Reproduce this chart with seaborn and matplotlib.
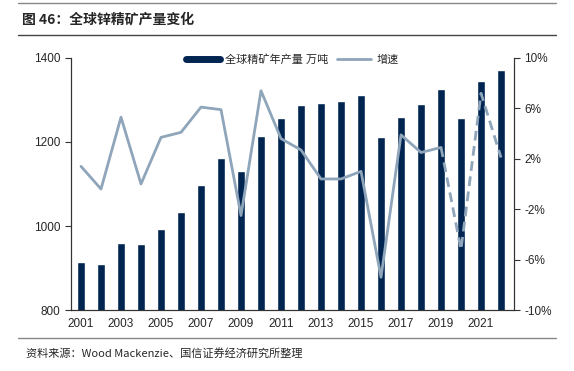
import seaborn as sns
import pandas as pd
import numpy as np
from matplotlib import pyplot as plt
from matplotlib import lines as mlines
from matplotlib.ticker import FixedLocator

years = [str(y) for y in range(2001, 2023)]
output = [914, 910, 960, 957, 993, 1033, 1097, 1162, 1130, 1214, 1257, 1288,
          1293, 1298, 1312, 1212, 1259, 1290, 1326, 1257, 1345, 1371]
growth = [1.4, -0.4, 5.3, 0.0, 3.7, 4.1, 6.1, 5.9, -2.5, 7.4, 3.6, 2.7,
          0.4, 0.4, 1.0, -7.4, 3.9, 2.5, 2.9, -5.2, 7.2, 2.1]
year_labels = ['2001', '2003', '2005', '2007', '2009', '2011', '2013', '2015',
               '2017', '2019', '2021']
left_ticks = [800, 1000, 1200, 1400]
right_ticks = [-10, -6, -2, 2, 6, 10]

bar_color = '#002551'
line_color = '#8FA5BA'

sns.set_style('white')
plt.rcParams['font.family'] = ['Liberation Sans', 'Noto Sans CJK SC', 'DejaVu Sans']

df = pd.DataFrame({'year': years, 'output': output})

fig = plt.figure(figsize=(5.74, 3.71), dpi=100)
ax = fig.add_axes([0.1237, 0.1644, 0.7718, 0.6793])
sns.barplot(x='year', y='output', data=df, color=bar_color, width=0.42,
            saturation=1, ax=ax)
ax.set_ylim(800, 1400)
ax.set_xlim(-0.5, 21.65)
ax.set_xlabel('')
ax.set_ylabel('')
ax.set_yticks(left_ticks)
ax.set_xticks([years.index(y) for y in year_labels])
ax.set_xticklabels(year_labels)
ax.xaxis.set_minor_locator(FixedLocator(np.arange(-0.5, 22, 2)))
ax.tick_params(axis='x', which='major', length=0, labelsize=8.5, pad=6)
ax.tick_params(axis='x', which='minor', length=3, direction='in', color='#333333', width=0.8)
ax.tick_params(axis='y', length=4, direction='out', labelsize=8.5, color='#333333', width=0.8, left=True)
for s in ['left', 'bottom', 'right']:
    ax.spines[s].set_color('#333333')
    ax.spines[s].set_linewidth(0.8)
ax.spines['top'].set_visible(False)

ax2 = ax.twinx()
x = np.arange(len(years))
ax2.plot(x[:19], growth[:19], color=line_color, lw=2)
ax2.plot(x[18:], growth[18:], color=line_color, lw=2, ls=(0, (3.5, 2)))
ax2.set_ylim(-10, 10)
ax2.set_yticks(right_ticks)
ax2.set_yticklabels([f'{t}%' for t in right_ticks])
ax2.tick_params(axis='y', length=4, direction='out', labelsize=8.5, color='#333333', width=0.8, right=True)
for s in ['left', 'bottom', 'right']:
    ax2.spines[s].set_color('#333333')
    ax2.spines[s].set_linewidth(0.8)
ax2.spines['top'].set_visible(False)

bar_handle = mlines.Line2D([], [], color=bar_color, lw=5)
line_handle = mlines.Line2D([], [], color=line_color, lw=2)
ax2.legend([bar_handle, line_handle], ['全球精矿年产量 万吨', '增速'],
           loc='upper center', bbox_to_anchor=(0.5, 1.055), ncol=2, frameon=False,
           fontsize=8, handlelength=3, columnspacing=0.8, handletextpad=0.5)

fig.text(0.038, 0.947, '图 46：全球锌精矿产量变化', fontsize=10, fontweight='bold',
         va='center', ha='left', family=['Noto Sans CJK SC', 'DejaVu Sans'])
fig.add_artist(mlines.Line2D([0.032, 0.968], [0.992, 0.992], color='#888888', lw=1))
fig.add_artist(mlines.Line2D([0.032, 0.968], [0.905, 0.905], color='#444444', lw=1))
fig.add_artist(mlines.Line2D([0.032, 0.968], [0.089, 0.089], color='#888888', lw=1))
fig.text(0.045, 0.048, '资料来源：Wood Mackenzie、国信证券经济研究所整理', fontsize=8,
         va='center', ha='left', family=['Noto Sans CJK SC', 'DejaVu Sans'])

fig.savefig('out.png', dpi=100)
